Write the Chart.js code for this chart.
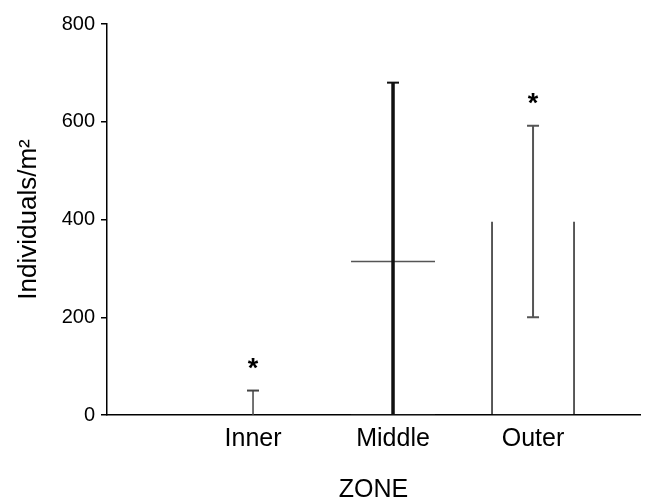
<!DOCTYPE html>
<html>
<head>
<meta charset="utf-8">
<script src="https://cdn.jsdelivr.net/npm/chart.js@4.4.1/dist/chart.umd.min.js"></script>
<style>
  html, body { margin: 0; padding: 0; background: #fff; }
  #wrap { width: 663px; height: 503px; }
</style>
</head>
<body>
<div id="wrap"><canvas id="zoneChart"></canvas></div>
<script>
// Density per zone, with error bar half-widths and significance marks
const zones = ['Inner', 'Middle', 'Outer'];
const means = [0, 316, 396];
const errors = [50, 364, 196];
const significant = [true, false, true];
const yTicks = [0, 200, 400, 600, 800];

const FONT = '"Liberation Sans", Arial, sans-serif';

// Error bars drawn on top of the bars, clipped at zero
const errorBarPlugin = {
    id: 'errorBars',
    afterDatasetsDraw(chart, args, opts) {
        const ctx = chart.ctx;
        const x = chart.scales.x;
        const y = chart.scales.y;
        ctx.save();
        means.forEach((m, i) => {
            const px = x.getPixelForValue(i + 1);
            const hi = m + errors[i];
            const lo = Math.max(0, m - errors[i]);
            const yHi = y.getPixelForValue(hi);
            const yLo = y.getPixelForValue(lo);
            ctx.strokeStyle = opts.colors[i];
            ctx.lineWidth = opts.widths[i];
            ctx.beginPath();
            ctx.moveTo(px, yLo);
            ctx.lineTo(px, yHi);
            ctx.stroke();
            ctx.lineWidth = 2;
            ctx.beginPath();
            ctx.moveTo(px - 6, yHi);
            ctx.lineTo(px + 6, yHi);
            if (m - errors[i] > 0) {
                ctx.moveTo(px - 6, yLo);
                ctx.lineTo(px + 6, yLo);
            }
            ctx.stroke();
            if (significant[i]) {
                ctx.fillStyle = '#000';
                ctx.font = 'bold 27px ' + FONT;
                ctx.textAlign = 'center';
                ctx.textBaseline = 'alphabetic';
                ctx.fillText('*', px, yHi - 14);
            }
        });
        ctx.restore();
    }
};

new Chart(document.getElementById('zoneChart'), {
    type: 'bar',
    data: {
        datasets: [{
            data: means.map((v, i) => ({ x: i + 1, y: v })),
            backgroundColor: '#fff',
            borderColor: '#555',
            borderSkipped: false,
            borderWidth: (c) => [
                0,
                { top: 2, left: 0, right: 0, bottom: 0 },
                { top: 0, left: 2, right: 2, bottom: 0 }
            ][c.dataIndex],
            barPercentage: 0.6,
            categoryPercentage: 1
        }]
    },
    options: {
        responsive: true,
        maintainAspectRatio: false,
        animation: false,
        layout: { padding: { top: 24, right: 23, left: 0, bottom: 0 } },
        plugins: {
            legend: { display: false },
            tooltip: { enabled: false },
            errorBars: {
                colors: ['#444', '#111', '#555'],
                widths: [1.5, 3.5, 2]
            }
        },
        scales: {
            x: {
                type: 'linear',
                offset: false,
                min: -0.043,
                max: 3.764,
                afterBuildTicks: (axis) => {
                    axis.ticks = zones.map((z, i) => ({ value: i + 1 }));
                },
                afterFit: (axis) => { axis.height = 88; },
                ticks: {
                    callback: (v) => zones[v - 1],
                    color: '#000',
                    padding: 9,
                    font: { family: FONT, size: 25 }
                },
                grid: { display: false, drawTicks: false },
                border: { display: true, color: '#000', width: 1.5 },
                title: {
                    display: true,
                    text: 'ZONE',
                    color: '#000',
                    padding: { top: 4, bottom: 0 },
                    font: { family: FONT, size: 25, lineHeight: 1 }
                }
            },
            y: {
                min: 0,
                max: 800,
                afterBuildTicks: (axis) => {
                    axis.ticks = yTicks.map((v) => ({ value: v }));
                },
                afterFit: (axis) => { axis.width = 107; },
                ticks: {
                    color: '#000',
                    padding: 6,
                    font: { family: FONT, size: 20 }
                },
                grid: {
                    drawOnChartArea: false,
                    drawTicks: true,
                    tickLength: 6,
                    color: '#000',
                    lineWidth: 1.5
                },
                border: { display: true, color: '#000', width: 1.5 },
                title: {
                    display: true,
                    text: 'Individuals/m²',
                    color: '#000',
                    padding: { top: 13, bottom: 0 },
                    font: { family: FONT, size: 26 }
                }
            }
        }
    },
    plugins: [errorBarPlugin]
});
</script>
</body>
</html>
